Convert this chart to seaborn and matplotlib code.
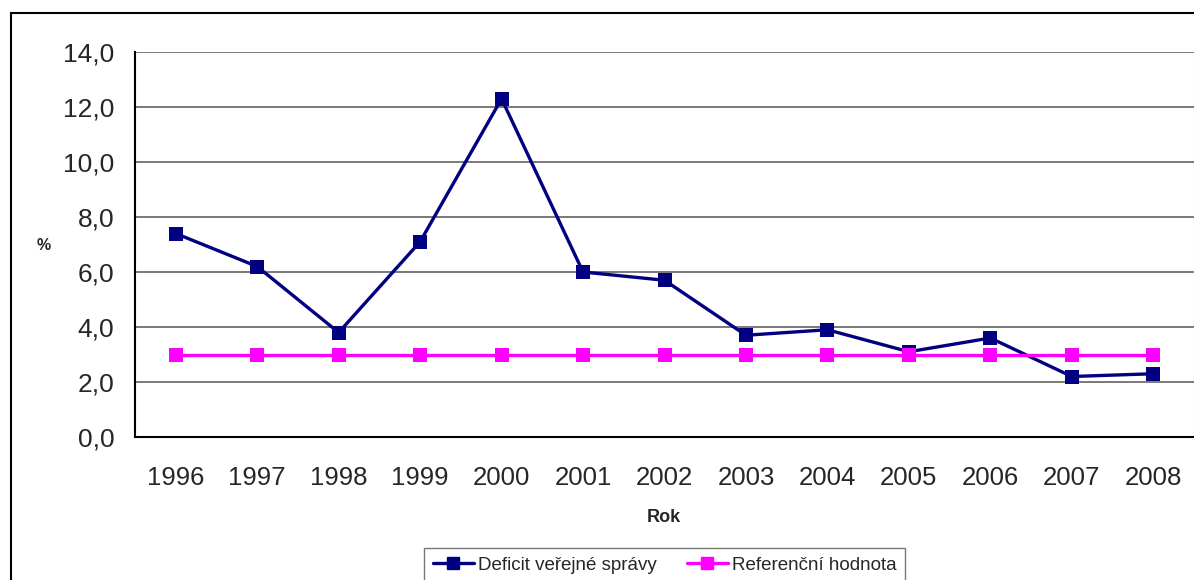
import numpy as np
import pandas as pd
import matplotlib
matplotlib.use("Agg")
import matplotlib.pyplot as plt
import seaborn as sns
from matplotlib.patches import Rectangle
from matplotlib.ticker import FuncFormatter

years = ["1996", "1997", "1998", "1999", "2000", "2001", "2002",
         "2003", "2004", "2005", "2006", "2007", "2008"]
deficit = [7.4, 6.2, 3.8, 7.1, 12.3, 6.0, 5.7, 3.7, 3.9, 3.1, 3.6, 2.2, 2.3]
reference = [3.0] * 13
series_names = ["Deficit veřejné správy", "Referenční hodnota"]
colors = ["#000080", "#FF00FF"]

df = pd.DataFrame({
    "x": list(range(len(years))) * 2,
    "value": deficit + reference,
    "series": [series_names[0]] * len(years) + [series_names[1]] * len(years),
})

sns.set_style("white")
plt.rcParams["font.family"] = ["Liberation Sans", "DejaVu Sans"]

W, H = 1194, 580
fig = plt.figure(figsize=(W / 100, H / 100), dpi=100)
ax = fig.add_axes([135 / W, 1 - 437 / H, (1194 - 135) / W, (437 - 52) / H])

sns.lineplot(data=df, x="x", y="value", hue="series", style="series",
             markers=["s", "s"], dashes=False, palette=colors,
             linewidth=2.4, markersize=10, markeredgewidth=0,
             ax=ax, legend=False, zorder=3)

ax.set_xlim(-0.5, 12.5)
ax.set_ylim(0, 14)
ax.set_yticks(np.arange(0, 14.1, 2))
ax.yaxis.set_major_formatter(FuncFormatter(lambda v, p: f"{v:.1f}".replace(".", ",")))
ax.set_xticks(range(len(years)))
ax.set_xticklabels(years)
ax.set_xticks(np.arange(-0.5, 13, 1), minor=True)
ax.tick_params(axis="x", which="major", length=0, pad=21, labelsize=18.5)
ax.tick_params(axis="x", which="minor", length=7, width=1.2, color="black", direction="out")
ax.tick_params(axis="y", length=7, width=1.2, color="black", direction="out", pad=8, labelsize=19)
ax.grid(axis="y", color="#6e6e6e", linewidth=1.3)
ax.set_axisbelow(True)
ax.set_xlabel("")
ax.set_ylabel("")
for side in ["left", "bottom"]:
    ax.spines[side].set_color("black")
    ax.spines[side].set_linewidth(1.5)
ax.spines["top"].set_visible(False)
ax.spines["right"].set_color("#cccccc")

fig.text(44 / W, 1 - 245 / H, "%", fontsize=11.5, fontweight="bold", ha="center", va="center")
fig.text(664 / W, 1 - 518 / H, "Rok", fontsize=13, fontweight="bold", ha="center", va="center")

handles = [plt.Line2D([], [], color=c, marker="s", linewidth=2.4, markersize=8.5) for c in colors]
leg = fig.legend(handles, series_names, loc="upper center", bbox_to_anchor=(664.5 / W, 1 - 548 / H),
                 ncol=2, fontsize=13.5, frameon=True, fancybox=False, edgecolor="#555555",
                 handlelength=2.2, handletextpad=0.2, columnspacing=1.6, borderpad=0.45,
                 borderaxespad=0)
leg.get_frame().set_linewidth(1.0)

fig.patches.append(Rectangle((11 / W, -0.1), 1.2, 1 - 13 / H + 0.1, transform=fig.transFigure,
                             fill=False, edgecolor="black", linewidth=1.5))

fig.savefig("out.png", dpi=100)
